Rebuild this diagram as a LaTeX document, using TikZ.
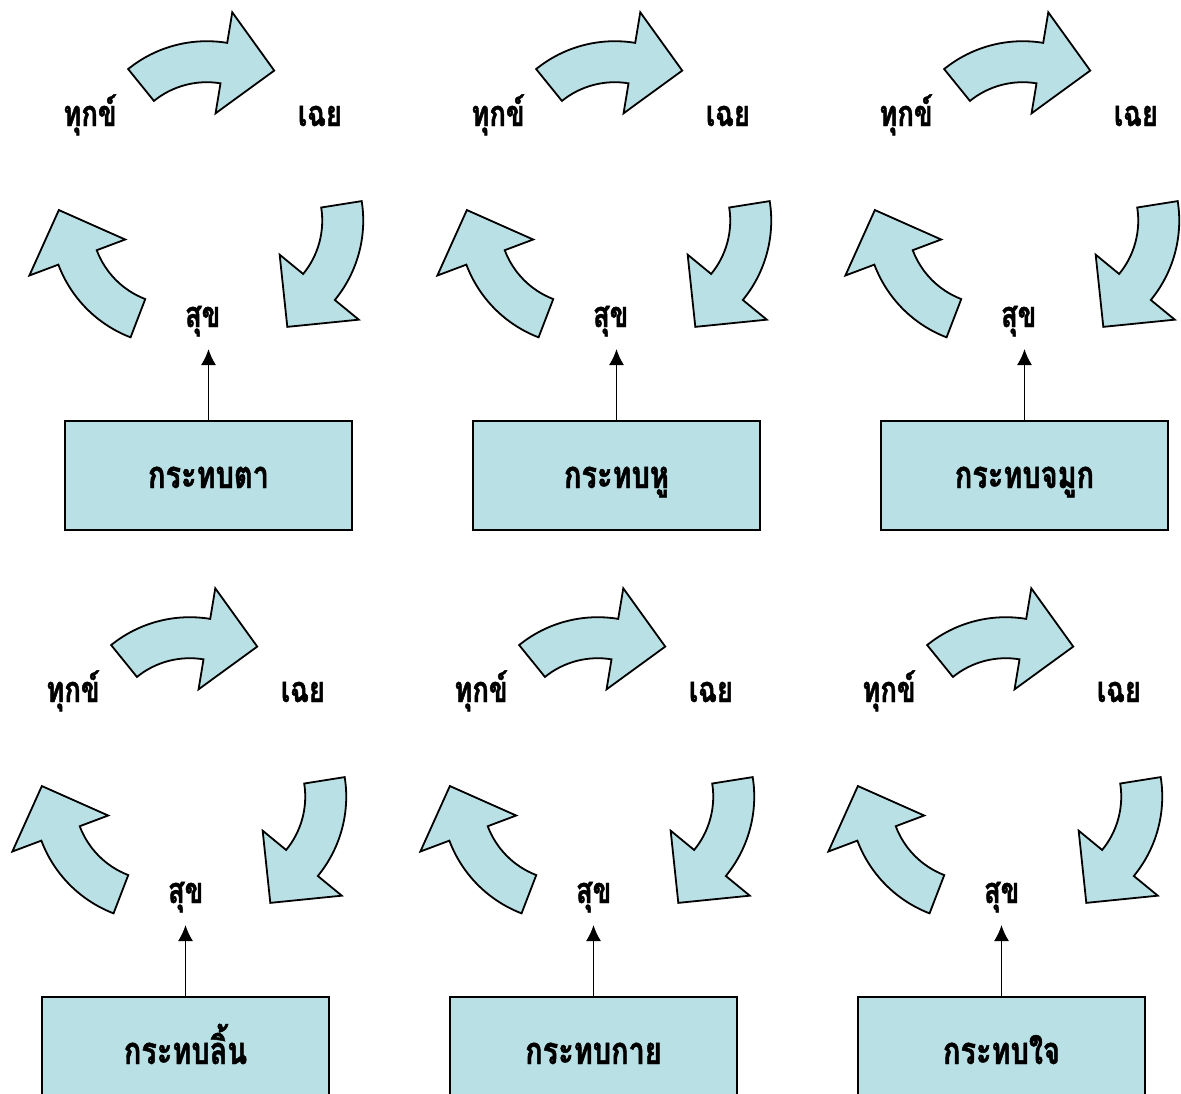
\documentclass[tikz,border=0pt]{standalone}
\usepackage{fontspec}
\newfontfamily\thaifont[Script=Thai, FakeStretch=0.76, BoldFeatures={FakeBold=1.2}]{Loma}
\usetikzlibrary{arrows.meta}
\definecolor{boxfill}{RGB}{185,224,228}
\tikzset{
  blockarrow/.style={draw=black, fill=boxfill, line width=1.8pt, line join=miter},
  lbl/.style={font=\thaifont\bfseries\fontsize{36}{36}\selectfont, anchor=base, inner sep=0pt},
  sensebox/.style={draw=black, fill=boxfill, line width=1.8pt, minimum width=287pt, minimum height=109pt,
    inner sep=0pt, text height=25pt, text depth=0pt, font=\thaifont\bfseries\fontsize{38}{38}\selectfont},
  link/.style={line width=1.6pt, -{Latex[length=16pt,width=15pt]}}
}
\newcommand\mypanel[6]{%
  \begin{scope}[shift={(#1,-#2)}]
    \foreach \k in {0,1,2}{%
      \begin{scope}[shift={(206.8,-202.5)}, rotate=-120*\k, shift={(0,36.3)}]
        \draw[blockarrow] (129:125) arc[start angle=129, end angle=80.6, radius=125]
          -- (80.6:156) -- (54.8:117) -- (80.6:53.6) -- (80.6:84)
          arc[start angle=80.6, end angle=129, radius=84] -- cycle;
      \end{scope}}
    \node[lbl] (suffer#6) at (90,-126) {ทุกข์};
    \node[lbl] (calm#6) at (320,-126) {เฉย};
    \node[lbl] (happy#6) at (202.7,-327) {สุข};
  \end{scope}
  \begin{scope}[shift={(#3,-#4)}]
    \node[sensebox] (box#6) at (208.5,-475.5) {#5};
    \coordinate (tip#6) at (208.5,-349);
    \draw[link] (box#6.north) -- (tip#6);
  \end{scope}}
\begin{document}
\begin{tikzpicture}[x=1pt,y=1pt]
  \useasboundingbox (0,0) rectangle (1181,-1093);
  \clip (0,0) rectangle (1181,-1093);
  \mypanel{0}{0}{0}{0}{กระทบตา}{a}
  \mypanel{408}{0}{408}{0}{กระทบหู}{b}
  \mypanel{816}{0}{816}{0}{กระทบจมูก}{c}
  \mypanel{-17}{576}{-23}{576}{กระทบลิ้น}{d}
  \mypanel{391}{576}{385}{576}{กระทบกาย}{e}
  \mypanel{799}{576}{793}{576}{กระทบใจ}{f}
\end{tikzpicture}
\end{document}
